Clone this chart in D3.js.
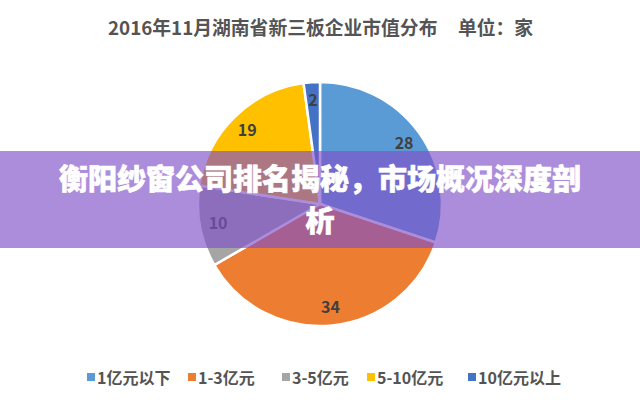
<!DOCTYPE html>
<html>
<head>
<meta charset="utf-8">
<script src="https://cdn.jsdelivr.net/npm/d3@7"></script>
<style>
  html, body { margin: 0; padding: 0; background: #ffffff; }
  svg { display: block; font-family: "Noto Sans CJK SC", "Noto Sans", sans-serif; }
</style>
</head>
<body>
<svg id="chart" width="640" height="400"></svg>
<script>
const categories = ["1亿元以下", "1-3亿元", "3-5亿元", "5-10亿元", "10亿元以上"];
const values = [28, 34, 10, 19, 2];
const colors = ["#5B9BD5", "#ED7D31", "#A5A5A5", "#FFC000", "#4472C4"];
const titleText = "2016年11月湖南省新三板企业市值分布";
const unitText = "单位：家";
const bannerLines = ["衡阳纱窗公司排名揭秘，市场概况深度剖", "析"];

const svg = d3.select("#chart");
const W = 640, H = 400;
svg.append("rect").attr("width", W).attr("height", H).attr("fill", "#ffffff");

// Title
svg.append("text")
  .attr("x", 108).attr("y", 35)
  .attr("font-size", 18.8).attr("font-weight", "bold").attr("fill", "#545454")
  .text(titleText);
svg.append("text")
  .attr("x", 458).attr("y", 35)
  .attr("font-size", 18.8).attr("font-weight", "bold").attr("fill", "#545454")
  .text(unitText);

// Pie
const cx = 320, cy = 204, R = 122;
const pie = d3.pie().sort(null).value(d => d)(values);
const arc = d3.arc().innerRadius(0).outerRadius(R);
const labelArc = d3.arc().innerRadius(R * 0.85).outerRadius(R * 0.85);
const g = svg.append("g").attr("transform", `translate(${cx},${cy})`);
g.selectAll("path").data(pie).enter().append("path")
  .attr("d", arc)
  .attr("fill", (d, i) => colors[i])
  .attr("stroke", "#ffffff").attr("stroke-width", 2.5);
g.selectAll("text.lbl").data(pie).enter().append("text")
  .attr("class", "lbl")
  .attr("transform", d => `translate(${labelArc.centroid(d)})`)
  .attr("text-anchor", "middle").attr("dy", "0.35em")
  .attr("font-size", 16).attr("font-weight", "bold").attr("fill", "#404040")
  .text(d => d.data);

// Legend
const legendX = [87, 188, 282, 367, 468];
const lg = svg.append("g");
categories.forEach((c, i) => {
  lg.append("rect").attr("x", legendX[i]).attr("y", 373).attr("width", 8).attr("height", 8).attr("fill", colors[i]);
  lg.append("text").attr("x", legendX[i] + 10).attr("y", 383.5)
    .attr("font-size", 16).attr("font-weight", "bold").attr("fill", "#545454")
    .text(c);
});

// Banner overlay
svg.append("rect").attr("x", 0).attr("y", 151).attr("width", W).attr("height", 97)
  .attr("fill", "rgb(128,80,200)").attr("fill-opacity", 0.65);
svg.append("text").attr("x", 320).attr("y", 190).attr("text-anchor", "middle")
  .attr("font-size", 29).attr("font-weight", "900").attr("fill", "#ffffff")
  .attr("stroke", "#ffffff").attr("stroke-width", 0.6)
  .text(bannerLines[0]);
svg.append("text").attr("x", 320).attr("y", 232).attr("text-anchor", "middle")
  .attr("font-size", 29).attr("font-weight", "900").attr("fill", "#ffffff")
  .attr("stroke", "#ffffff").attr("stroke-width", 0.6)
  .text(bannerLines[1]);
</script>
</body>
</html>
